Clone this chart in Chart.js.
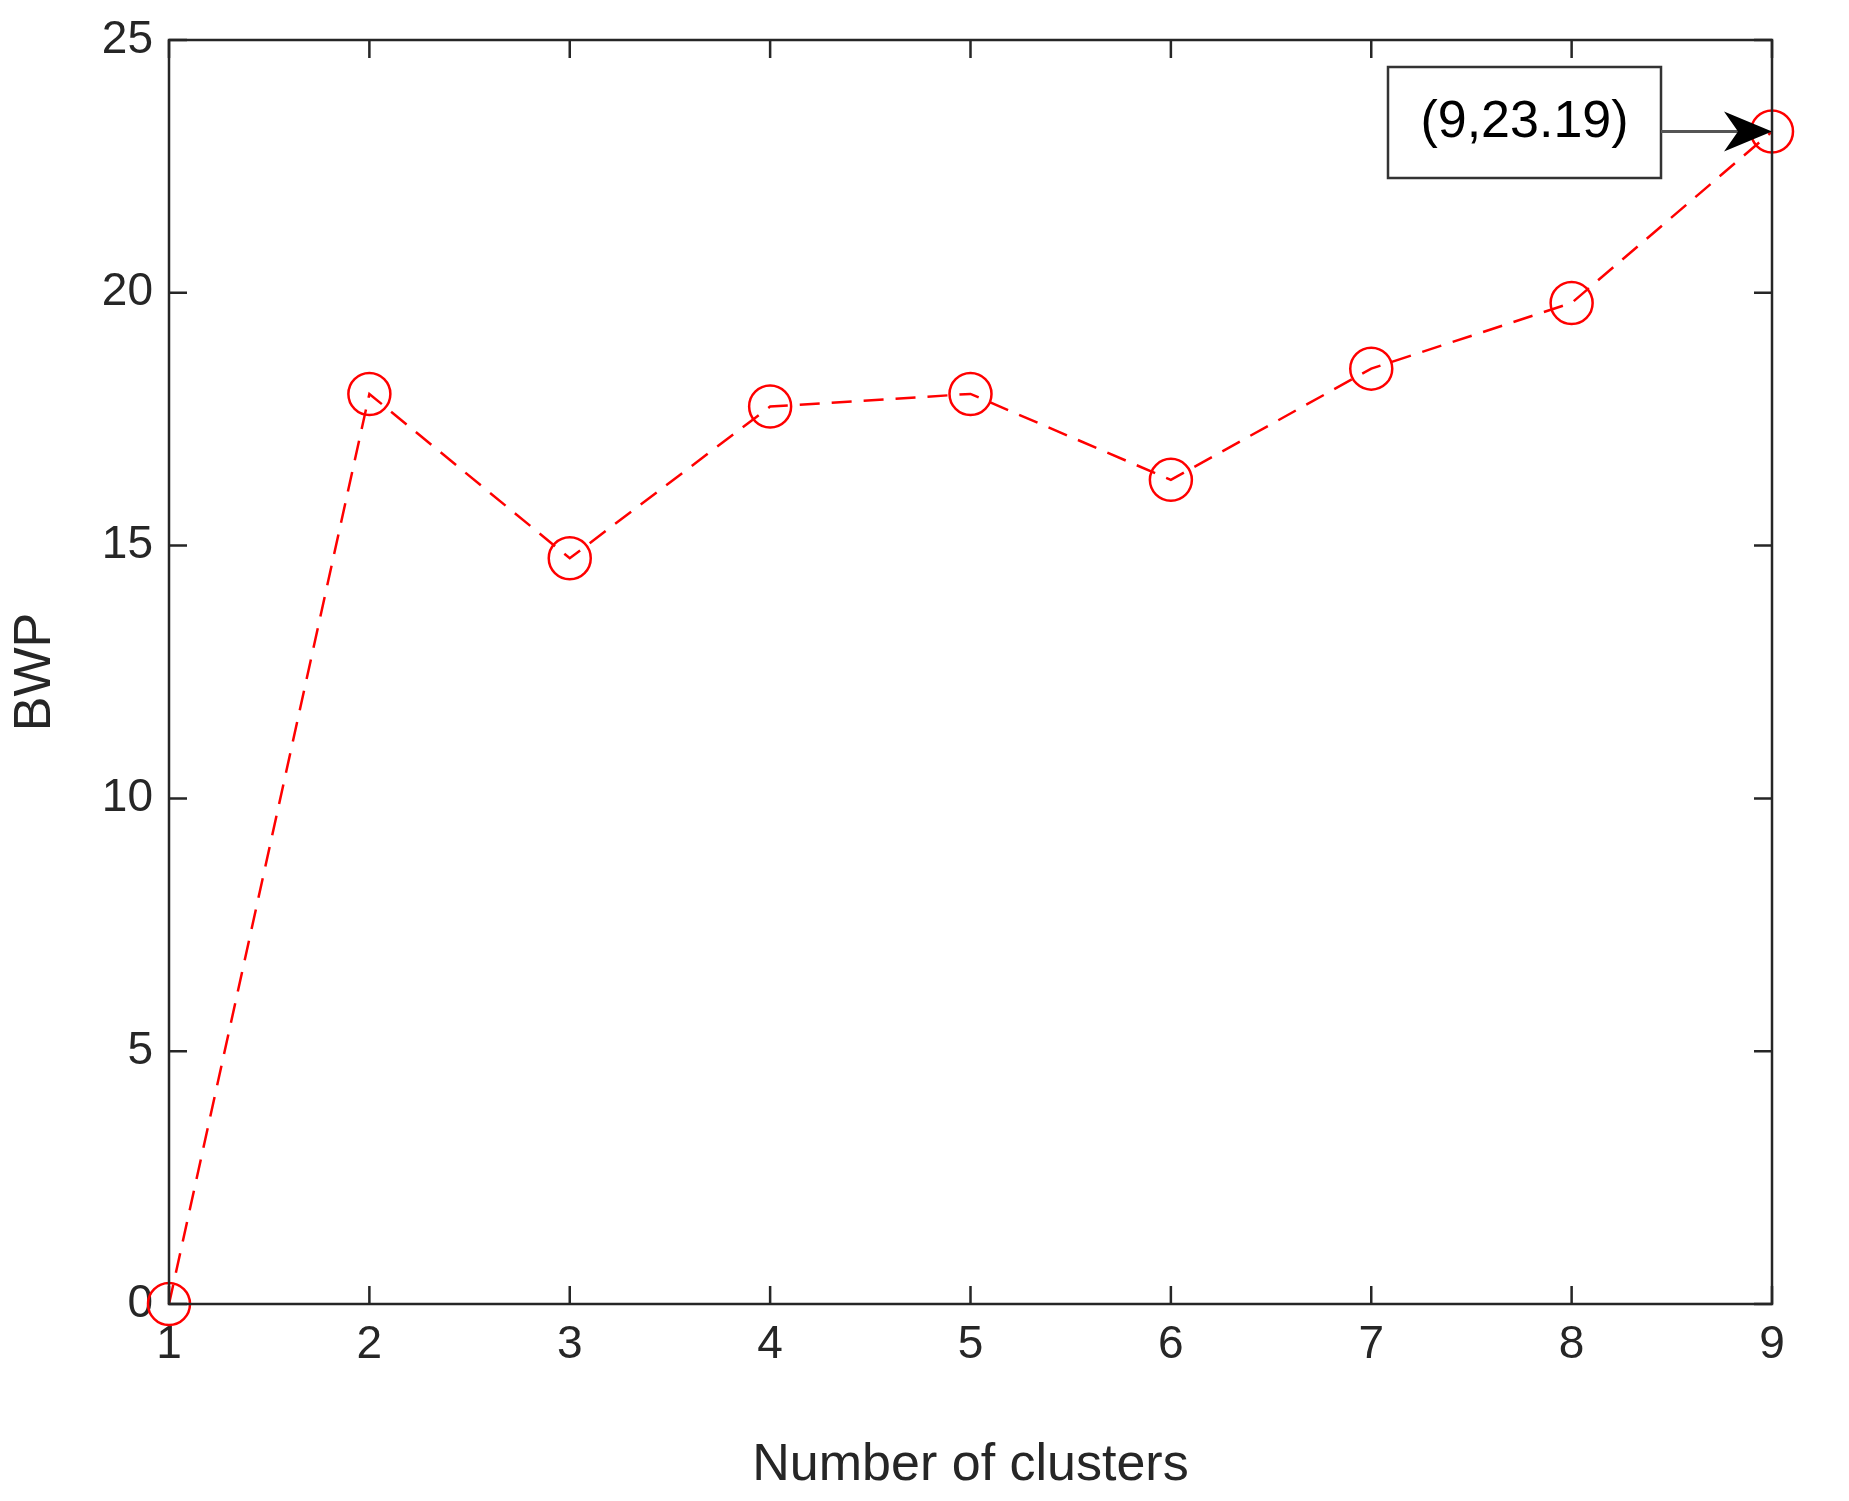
<!DOCTYPE html>
<html><head><meta charset="utf-8">
<script src="https://cdn.jsdelivr.net/npm/chart.js@4"></script>
<style>html,body{margin:0;padding:0;background:#fff}#w{width:1849px;height:1501px}</style>
</head><body><div id="w"><canvas id="c"></canvas></div>
<script>
const clusters = [1,2,3,4,5,6,7,8,9];
const bwp = [0, 18.0, 14.75, 17.75, 18.0, 16.3, 18.5, 19.8, 23.19];
const yTicks = [0,5,10,15,20,25];
const annotText = '(9,23.19)';
const FONT = 'Liberation Sans, Arial, sans-serif';

const frame = {
  id:'frame',
  afterDraw(ch){
    const {ctx, chartArea:a, scales:{x,y}} = ch;
    ctx.save();
    ctx.strokeStyle='#262626'; ctx.lineWidth=2.5;
    ctx.strokeRect(a.left,a.top,a.right-a.left,a.bottom-a.top);
    const L=18;
    ctx.beginPath();
    clusters.forEach(v=>{const px=x.getPixelForValue(v);
      ctx.moveTo(px,a.bottom);ctx.lineTo(px,a.bottom-L);
      ctx.moveTo(px,a.top);ctx.lineTo(px,a.top+L);});
    yTicks.forEach(v=>{const py=y.getPixelForValue(v);
      ctx.moveTo(a.left,py);ctx.lineTo(a.left+L,py);
      ctx.moveTo(a.right,py);ctx.lineTo(a.right-L,py);});
    ctx.stroke();
    // annotation
    const px=x.getPixelForValue(9), py=y.getPixelForValue(23.19);
    const bx=1388, by=67, bw=273, bh=111;
    ctx.fillStyle='#fff'; ctx.fillRect(bx,by,bw,bh);
    ctx.strokeStyle='#333'; ctx.lineWidth=2.5; ctx.strokeRect(bx,by,bw,bh);
    ctx.fillStyle='#000'; ctx.font='52px '+FONT; ctx.textAlign='center'; ctx.textBaseline='middle';
    ctx.fillText(annotText,bx+bw/2,by+bh/2);
    ctx.strokeStyle='#555'; ctx.lineWidth=3;
    ctx.beginPath(); ctx.moveTo(bx+bw,py); ctx.lineTo(px-30,py); ctx.stroke();
    ctx.fillStyle='#000';
    ctx.beginPath(); ctx.moveTo(px,py); ctx.lineTo(px-48,py-20); ctx.lineTo(px-34,py); ctx.lineTo(px-48,py+20); ctx.closePath(); ctx.fill();
    ctx.restore();
  }
};

new Chart(document.getElementById('c'),{
  type:'line',
  data:{datasets:[{data:clusters.map((c,i)=>({x:c,y:bwp[i]})),
    borderColor:'#ff0000',borderWidth:2.5,borderDash:[20,12],
    pointStyle:'circle',pointRadius:21,pointBorderColor:'#ff0000',pointBackgroundColor:'rgba(0,0,0,0)',pointBorderWidth:2.5,
    tension:0,clip:false}]},
  options:{responsive:true,maintainAspectRatio:false,animation:false,
    layout:{padding:{top:40,right:77,left:0,bottom:0}},
    plugins:{legend:{display:false},tooltip:{enabled:false}},
    scales:{
      x:{type:'linear',min:1,max:9,afterBuildTicks(s){s.ticks=clusters.map(v=>({value:v}));},
        afterFit(s){s.height=197;},
        grid:{display:false},border:{display:false},
        ticks:{color:'#262626',font:{family:FONT,size:46},padding:6},
        title:{display:true,text:'Number of clusters',color:'#262626',font:{family:FONT,size:52},padding:{top:4}}},
      y:{min:0,max:25,afterBuildTicks(s){s.ticks=yTicks.map(v=>({value:v}));},
        afterFit(s){s.width=169;},
        grid:{display:false},border:{display:false},
        ticks:{color:'#262626',font:{family:FONT,size:46},padding:8},
        title:{display:true,text:'BWP',color:'#262626',font:{family:FONT,size:52},padding:{bottom:10}}}
    }},
  plugins:[frame]
});
</script></body></html>
